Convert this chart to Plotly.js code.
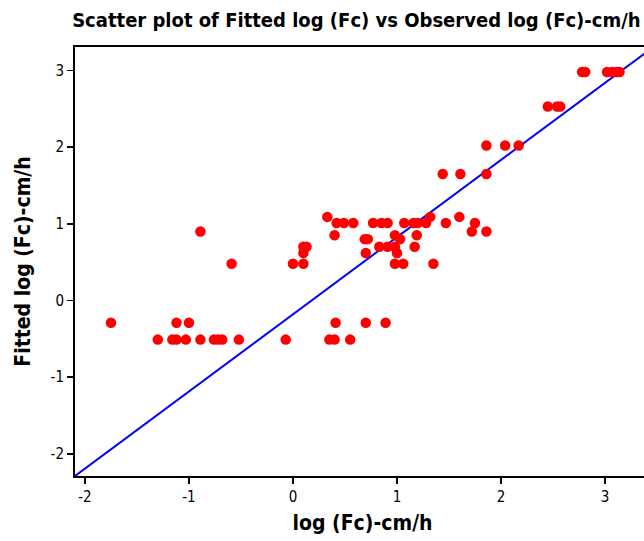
<!DOCTYPE html>
<html>
<head>
<meta charset="utf-8">
<script src="https://cdn.plot.ly/plotly-3.0.1.min.js"></script>
<style>
html,body{margin:0;padding:0;background:#fff;overflow:hidden;width:644px;height:541px;}
#chart{width:660px;height:541px;}
</style>
</head>
<body>
<div id="chart"></div>
<script>
// Observed log(Fc) (x) and fitted log(Fc) (y)
const observed = [
  2.78, 2.81, 3.02, 3.07, 3.11, 3.14,
  2.45, 2.54, 2.57,
  1.86, 2.04, 2.17,
  1.44, 1.61, 1.86,
  0.33, 1.32, 1.60,
  0.42, 0.49, 0.58, 0.77, 0.85, 0.91, 1.07, 1.16, 1.20, 1.28, 1.47, 1.75,
  -0.89, 1.72, 1.86,
  0.40, 0.98, 1.19,
  0.69, 0.72, 1.03,
  0.10, 0.13, 0.83, 0.91, 0.98, 1.17,
  0.10, 0.70, 1.00,
  -0.59, 0.00, 0.10, 0.98, 1.06, 1.35,
  -1.75, -1.12, -1.00, 0.41, 0.70, 0.89,
  -1.30, -1.16, -1.12, -1.03, -0.89, -0.76, -0.72, -0.68, -0.52, -0.07, 0.35, 0.40, 0.55
];
const fitted = [
  2.98, 2.98, 2.98, 2.98, 2.98, 2.98,
  2.53, 2.53, 2.53,
  2.02, 2.02, 2.02,
  1.65, 1.65, 1.65,
  1.09, 1.09, 1.09,
  1.01, 1.01, 1.01, 1.01, 1.01, 1.01, 1.01, 1.01, 1.01, 1.01, 1.01, 1.01,
  0.90, 0.90, 0.90,
  0.85, 0.85, 0.85,
  0.80, 0.80, 0.80,
  0.70, 0.70, 0.70, 0.70, 0.70, 0.70,
  0.62, 0.62, 0.62,
  0.48, 0.48, 0.48, 0.48, 0.48, 0.48,
  -0.29, -0.29, -0.29, -0.29, -0.29, -0.29,
  -0.51, -0.51, -0.51, -0.51, -0.51, -0.51, -0.51, -0.51, -0.51, -0.51, -0.51, -0.51, -0.51
];
// Reference line
const lineX = [-2.096, 3.43];
const lineY = [-2.288, 3.27];

const tickVals = [-2, -1, 0, 1, 2, 3];
const tickText = ['-2', '-1', '0', '1', '2', '3'];

const fontFam = '"Liberation Sans Narrow", "DejaVu Sans Condensed", "Arial Narrow", sans-serif';

const data = [
  {
    x: lineX, y: lineY, type: 'scatter', mode: 'lines',
    line: {color: '#0000ff', width: 2}, hoverinfo: 'skip'
  },
  {
    x: observed, y: fitted, type: 'scatter', mode: 'markers',
    marker: {color: '#ff0000', size: 10.5, line: {width: 0}}
  }
];

const axisCommon = {
  showline: true, linecolor: '#000', linewidth: 2, mirror: true,
  ticks: 'outside', ticklen: 6, tickwidth: 1.5, tickcolor: '#000',
  showgrid: false, zeroline: false,
  tickmode: 'array', tickvals: tickVals, ticktext: tickText,
  tickfont: {family: fontFam, size: 15, color: '#000'}
};

const layout = {
  width: 660, height: 541,
  margin: {l: 75, r: 10, t: 47, b: 65},
  paper_bgcolor: '#fff', plot_bgcolor: '#fff',
  showlegend: false,
  title: {
    text: '<b>Scatter plot of Fitted log (Fc) vs Observed log (Fc)-cm/h</b>',
    font: {family: fontFam, size: 20, color: '#000'},
    x: 0.54, xanchor: 'center', y: 0.963, yanchor: 'middle'
  },
  xaxis: Object.assign({}, axisCommon, {
    range: [-2.096, 3.433],
    title: {text: '<b>log (Fc)-cm/h</b>', font: {family: fontFam, size: 21, color: '#000'}, standoff: 10}
  }),
  yaxis: Object.assign({}, axisCommon, {
    range: [-2.288, 3.305],
    title: {text: '<b>Fitted log (Fc)-cm/h</b>', font: {family: fontFam, size: 21, color: '#000'}, standoff: 14}
  })
};

Plotly.newPlot('chart', data, layout, {displayModeBar: false, staticPlot: true});
</script>
</body>
</html>
